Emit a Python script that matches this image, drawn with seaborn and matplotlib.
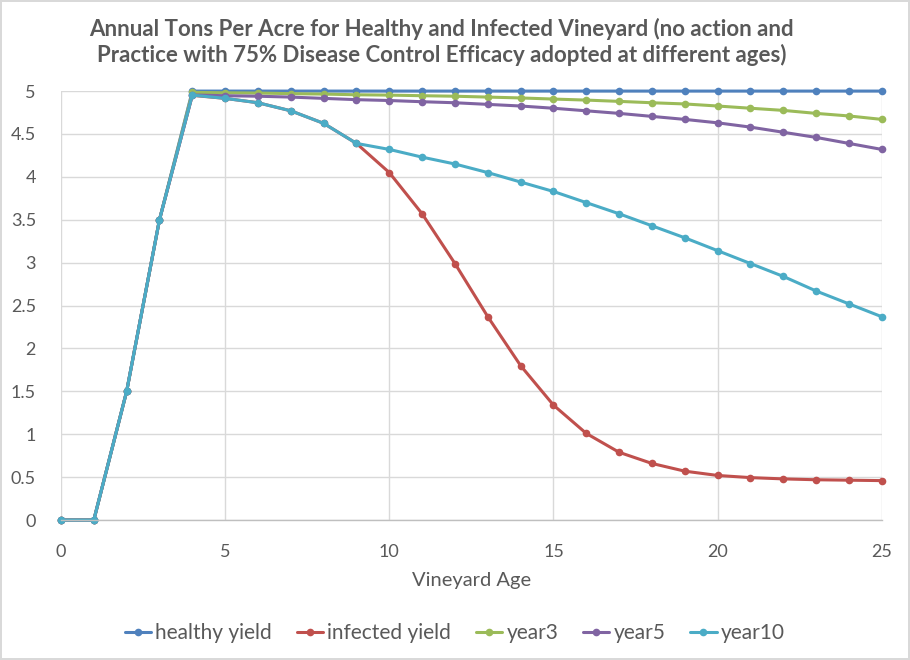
import numpy as np
import pandas as pd
import matplotlib
matplotlib.use("Agg")
import matplotlib.pyplot as plt
import seaborn as sns

# vineyard ages 0..25
ages = list(range(26))

healthy_yield = [0, 0, 1.5, 3.5, 5.0, 5.0, 5.0, 5.0, 5.0, 5.0, 5.0, 5.0, 5.0,
                 5.0, 5.0, 5.0, 5.0, 5.0, 5.0, 5.0, 5.0, 5.0, 5.0, 5.0, 5.0, 5.0]
infected_yield = [0, 0, 1.5, 3.5, 4.95, 4.915, 4.864, 4.77, 4.624, 4.39, 4.05, 3.57,
                  2.99, 2.37, 1.80, 1.34, 1.01, 0.79, 0.66, 0.57, 0.52, 0.495,
                  0.48, 0.47, 0.465, 0.46]
year3 = [0, 0, 1.5, 3.5, 4.985, 4.98, 4.977, 4.97, 4.965, 4.957, 4.953, 4.946,
         4.94, 4.93, 4.92, 4.907, 4.895, 4.88, 4.864, 4.85, 4.826, 4.80, 4.775,
         4.74, 4.71, 4.67]
year5 = [0, 0, 1.5, 3.5, 4.955, 4.946, 4.94, 4.93, 4.915, 4.90, 4.89, 4.876,
         4.864, 4.845, 4.826, 4.80, 4.77, 4.74, 4.705, 4.67, 4.63, 4.58, 4.52,
         4.46, 4.39, 4.32]
year10 = [0, 0, 1.5, 3.5, 4.953, 4.915, 4.864, 4.77, 4.624, 4.39, 4.32, 4.23,
          4.15, 4.05, 3.94, 3.83, 3.70, 3.57, 3.43, 3.29, 3.14, 2.99, 2.84,
          2.67, 2.52, 2.37]

series_names = ["healthy yield", "infected yield", "year3", "year5", "year10"]
series_values = [healthy_yield, infected_yield, year3, year5, year10]
colors = ["#4F81BD", "#C0504D", "#9BBB59", "#8064A2", "#4BACC6"]

df = pd.DataFrame({
    "age": ages * len(series_names),
    "tons": sum(series_values, []),
    "series": sum([[n] * len(ages) for n in series_names], []),
})

sns.set_theme(style="white")
plt.rcParams["font.family"] = ["Lato", "DejaVu Sans"]
text_col = "#595959"

fig = plt.figure(figsize=(9.1, 6.6), dpi=100, linewidth=1.5, edgecolor="#d9d9d9")
ax = fig.add_axes([0.067, 0.212, 0.902, 0.650])

sns.lineplot(data=df, x="age", y="tons", hue="series", hue_order=series_names,
             palette=colors, marker="o", markersize=5.5, markeredgewidth=0,
             linewidth=2.2, ax=ax)

ax.set_xlim(0, 25)
ax.set_ylim(0, 5)
ax.set_xticks(np.arange(0, 26, 5))
ax.set_yticks(np.arange(0, 5.01, 0.5))
ax.set_yticklabels(["0", "0.5", "1", "1.5", "2", "2.5", "3", "3.5", "4", "4.5", "5"])
ax.grid(True, color="#d9d9d9", linewidth=1)
ax.set_axisbelow(True)
for s in ["top", "right", "left"]:
    ax.spines[s].set_visible(False)
ax.spines["bottom"].set_color("#bfbfbf")
ax.spines["bottom"].set_linewidth(1)
ax.tick_params(axis="both", length=0, labelsize=13, labelcolor=text_col)
ax.tick_params(axis="y", pad=18)
ax.tick_params(axis="x", pad=17)
for line in ax.lines:
    line.set_clip_on(False)

ax.set_xlabel("Vineyard Age", fontsize=14.5, color=text_col, labelpad=9)
ax.set_ylabel("")

fig.suptitle("Annual Tons Per Acre for Healthy and Infected Vineyard (no action and\n"
             "Practice with 75% Disease Control Efficacy adopted at different ages)",
             x=0.485, y=0.973, fontsize=16, fontweight="bold", color=text_col,
             linespacing=1.2)

ax.legend(loc="center", bbox_to_anchor=(0.48, -0.264), ncol=5, frameon=False,
          fontsize=15, labelcolor=text_col, handlelength=1.25, handletextpad=0.2,
          columnspacing=1.2)

fig.savefig("out.png", dpi=100)
